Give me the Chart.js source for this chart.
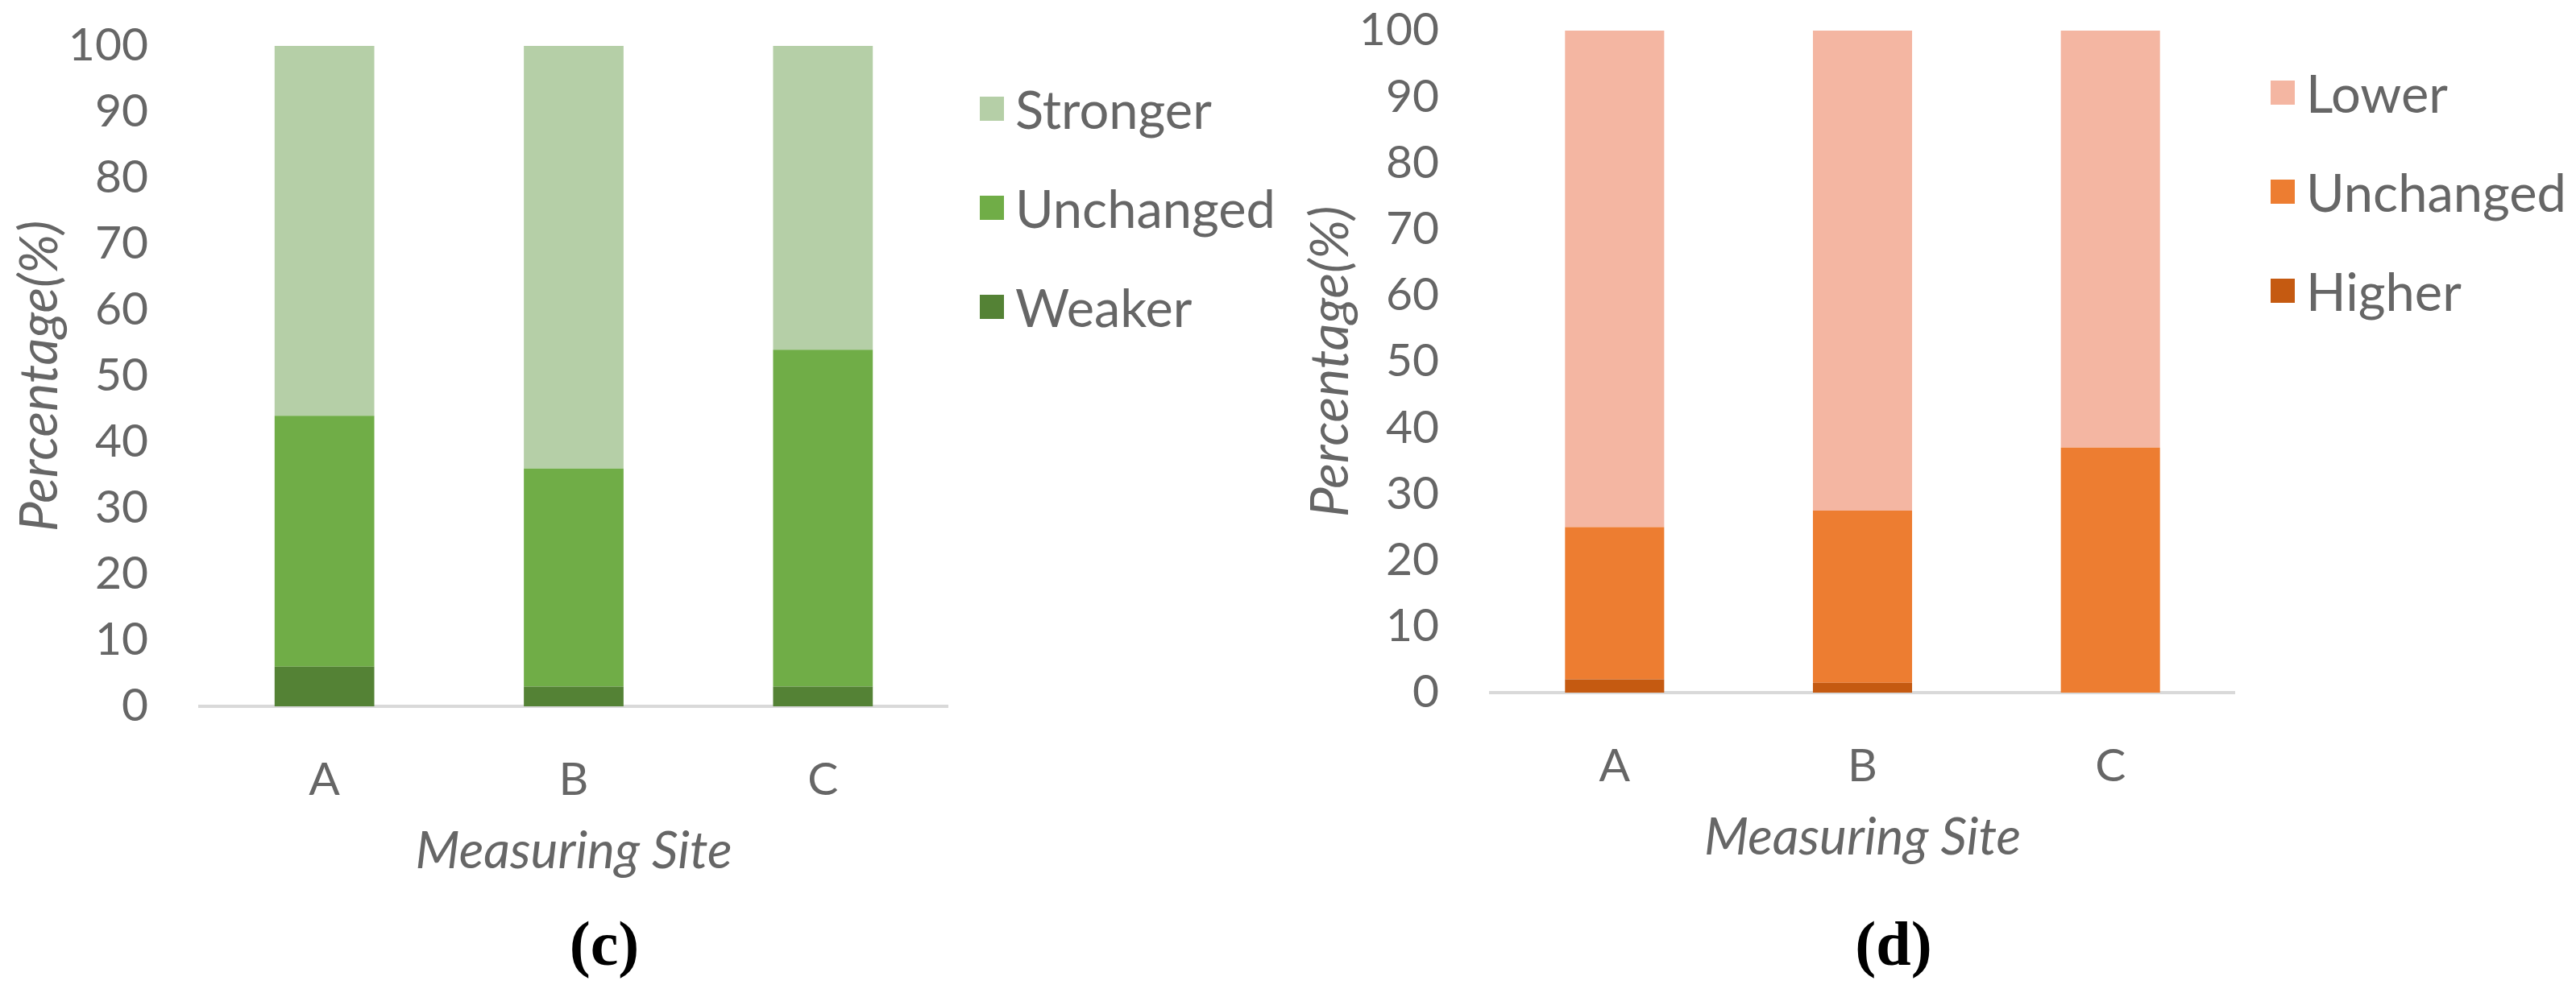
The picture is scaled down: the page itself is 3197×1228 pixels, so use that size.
<!DOCTYPE html>
<html>
<head>
<meta charset="utf-8">
<script src="https://cdn.jsdelivr.net/npm/chart.js@4.4.1/dist/chart.umd.min.js"></script>
<style>
	body { margin: 0; background: #fff; width: 3197px; height: 1228px; position: relative; overflow: hidden; font-family: Lato, sans-serif; }
	canvas { position: absolute; top: 0; }
	#chartC { left: 0; }
	#chartD { left: 1602px; }
	.legend { position: absolute; font-size: 65px; color: #666; }
	.legend-item { display: flex; align-items: center; height: 65px; margin-bottom: 58px; white-space: nowrap; }
	.legend-box { width: 30px; height: 30px; margin-right: 14px; flex: none; }
	.panel-label { position: absolute; font-family: 'Liberation Serif', 'Times New Roman', serif; font-weight: bold; font-size: 78px; color: #000; transform: translate(-50%, -50%); }
</style>
</head>
<body>
<canvas id="chartC" width="1600" height="1228"></canvas>
<canvas id="chartD" width="1595" height="1228"></canvas>
<div class="legend" id="legendC" style="left:1216px; top:102px;"></div>
<div class="legend" id="legendD" style="left:2818px; top:82px;"></div>
<div class="panel-label" style="left:750px; top:1172px;">(c)</div>
<div class="panel-label" style="left:2350px; top:1172px;">(d)</div>
<script>
const sites = ['A', 'B', 'C'];

// panel (c): bottom-to-top stacking order
const strengthLabels = ['Weaker', 'Unchanged', 'Stronger'];
const weakerPct = [6, 3, 3];
const unchangedStrengthPct = [38, 33, 51];
const strongerPct = [56, 64, 46];
const strengthColors = ['#548235', '#70ad47', '#b5cfa7'];

// panel (d)
const levelLabels = ['Higher', 'Unchanged', 'Lower'];
const higherPct = [2, 1.5, 0];
const unchangedLevelPct = [23, 26, 37];
const lowerPct = [75, 72.5, 63];
const levelColors = ['#c55a11', '#ed7d31', '#f4b6a2'];

const textColor = '#666';
const fontFamily = 'Lato, sans-serif';

function renderLegend(containerId, labels, colors) {
	// Excel lists the top segment first
	const items = labels.map((label, i) => `
		<div class="legend-item">
			<span class="legend-box" style="background:${colors[i]}"></span>${label}
		</div>
	`).reverse().join('');
	document.getElementById(containerId).innerHTML = items;
}

function buildChart(canvasId, labels, series, colors, plotTop, plotBottom) {
	const xAxisHeight = 219;
	const datasets = labels.map((label, i) => ({
		label: label,
		data: series[i],
		backgroundColor: colors[i],
		borderWidth: 0,
		barPercentage: 0.4,
		categoryPercentage: 1.0
	}));

	return new Chart(document.getElementById(canvasId), {
		type: 'bar',
		data: { labels: sites, datasets: datasets },
		options: {
			responsive: false,
			animation: false,
			devicePixelRatio: 1,
			layout: { padding: { top: plotTop, bottom: 1228 - plotBottom - xAxisHeight, left: 0, right: 424 } },
			plugins: {
				legend: { display: false },
				tooltip: { enabled: false }
			},
			scales: {
				x: {
					stacked: true,
					grid: { display: false },
					border: { display: true, color: '#d9d9d9', width: 4 },
					ticks: { color: textColor, font: { family: fontFamily, size: 57 }, padding: 49 },
					title: {
						display: true,
						text: 'Measuring Site',
						color: textColor,
						font: { family: fontFamily, size: 64, style: 'italic' },
						padding: { top: 0, bottom: 0 }
					},
					afterFit: (scale) => {
						scale.height = xAxisHeight;
						scale.paddingLeft = 0;
						scale.paddingRight = 0;
					}
				},
				y: {
					stacked: true,
					min: 0,
					max: 100,
					grid: { display: false },
					border: { display: false },
					ticks: { stepSize: 10, color: textColor, font: { family: fontFamily, size: 57 }, padding: 56 },
					title: {
						display: true,
						text: 'Percentage(%)',
						color: textColor,
						font: { family: fontFamily, size: 66, style: 'italic' },
						padding: { top: 10, bottom: 0 }
					},
					afterFit: (scale) => {
						// tick padding would otherwise push the plot area down
						scale.width = 248;
						scale.paddingTop = 0;
						scale.paddingBottom = 0;
					}
				}
			}
		}
	});
}

Promise.all([
	document.fonts.load('57px Lato'),
	document.fonts.load('italic 64px Lato')
]).catch(() => {}).then(() => {
	renderLegend('legendC', strengthLabels, strengthColors);
	renderLegend('legendD', levelLabels, levelColors);
	buildChart('chartC', strengthLabels, [weakerPct, unchangedStrengthPct, strongerPct], strengthColors, 57, 877);
	buildChart('chartD', levelLabels, [higherPct, unchangedLevelPct, lowerPct], levelColors, 38, 860);
});
</script>
</body>
</html>
